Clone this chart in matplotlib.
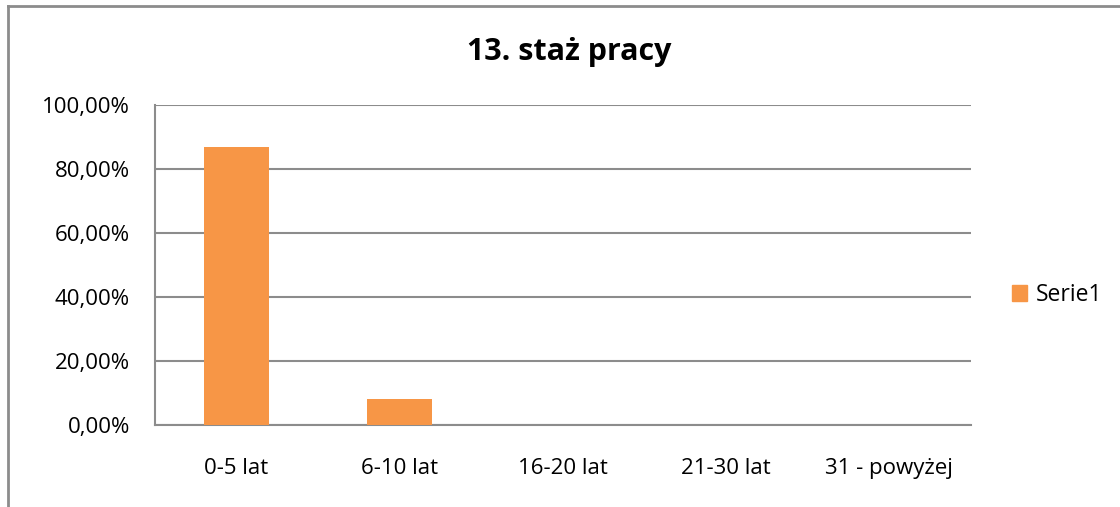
import matplotlib
matplotlib.use("Agg")
import matplotlib.pyplot as plt
from matplotlib.lines import Line2D
from matplotlib.patches import Patch
from matplotlib.ticker import FuncFormatter

categories = ["0-5 lat", "6-10 lat", "16-20 lat", "21-30 lat", "31 - powyżej"]
values = [86.96, 8.1, 0.0, 0.0, 0.0]
yticks = [0, 20, 40, 60, 80, 100]
series_name = "Serie1"

plt.rcParams["font.family"] = ["Open Sans", "DejaVu Sans"]
BAR = "#F79646"
GRID = "#8C8C8C"

W, H = 1120, 507
fig = plt.figure(figsize=(W / 100, H / 100), dpi=100)
ax = fig.add_axes([155 / W, 1 - 425 / H, 816 / W, 320 / H])

x = range(len(categories))
ax.bar(x, values, width=0.4, color=BAR, zorder=3)
ax.set_xlim(-0.5, len(categories) - 0.5)
ax.set_ylim(0, 100)
ax.set_yticks(yticks)
ax.yaxis.set_major_formatter(FuncFormatter(lambda v, p: f"{v:.2f}%".replace(".", ",")))
ax.set_xticks(list(x))
ax.set_xticklabels(categories)
ax.tick_params(axis="both", length=0, labelsize=16, colors="black")
ax.tick_params(axis="y", pad=18)
ax.tick_params(axis="x", pad=24)
ax.grid(axis="y", color=GRID, linewidth=1.5, zorder=0)
for s in ["top", "right"]:
    ax.spines[s].set_visible(False)
for s in ["left", "bottom"]:
    ax.spines[s].set_color(GRID)
    ax.spines[s].set_linewidth(1.5)

fig.text(569 / W, 1 - 52 / H, "13. staż pracy", ha="center", va="center",
         fontsize=22, fontweight="bold")

fig.legend(handles=[Patch(color=BAR, label=series_name)], loc="center left",
           bbox_to_anchor=(991 / W, 1 - 295 / H), frameon=False, fontsize=16.5,
           handlelength=0.65, handleheight=0.65, handletextpad=0.4)

# outer chart border (left and top)
fig.add_artist(Line2D([8 / W, 8 / W], [0, 1 - 6 / H], color=GRID, linewidth=2))
fig.add_artist(Line2D([8 / W, 1], [1 - 6 / H, 1 - 6 / H], color=GRID, linewidth=2))

fig.savefig("out.png", dpi=100)
